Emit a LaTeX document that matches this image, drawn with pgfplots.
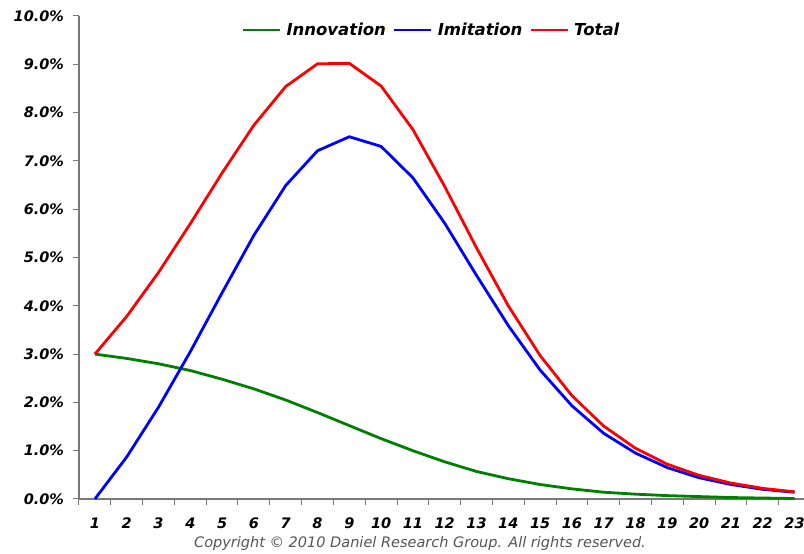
\documentclass[border=0pt]{standalone}
\usepackage{pgfplots}
\pgfplotsset{compat=1.18}
\usepackage{pgfplotstable}
\usepackage{fontspec}
\setmainfont{DejaVu Sans}
\definecolor{axgray}{RGB}{120,120,120}
\definecolor{cgreen}{RGB}{0,128,0}
\definecolor{cblue}{RGB}{0,0,255}
\definecolor{cred}{RGB}{255,0,0}
\definecolor{copyg}{RGB}{85,85,85}
\pgfplotstableread{
t innov imit total
1 3.00 0.00 3.00
2 2.91 0.87 3.78
3 2.80 1.90 4.69
4 2.66 3.05 5.70
5 2.48 4.27 6.75
6 2.28 5.46 7.74
7 2.05 6.49 8.54
8 1.79 7.21 9.01
9 1.52 7.50 9.02
10 1.25 7.30 8.55
11 1.00 6.65 7.65
12 0.77 5.71 6.47
13 0.57 4.63 5.20
14 0.42 3.59 4.00
15 0.30 2.67 2.97
16 0.21 1.93 2.14
17 0.14 1.36 1.51
18 0.10 0.95 1.05
19 0.07 0.65 0.72
20 0.05 0.44 0.49
21 0.03 0.30 0.33
22 0.02 0.20 0.22
23 0.01 0.14 0.15
}\datatable
\begin{document}
\begin{tikzpicture}
\begin{axis}[
  at={(0,0)}, anchor=south west,
  scale only axis, width=731.4pt, height=483pt,
  xmin=0.5, xmax=23.5, ymin=0, ymax=10,
  axis lines*=left,
  axis line style={axgray, line width=1.3pt, -},
  tick align=outside,
  major tick length=6pt, minor tick length=6pt,
  every tick/.style={axgray, line width=1pt},
  xtick={1,...,23},
  minor xtick={0.5,1.5,...,23.5},
  major x tick style={draw=none},
  ytick={0,1,...,10},
  yticklabel={\pgfmathprintnumber[fixed,fixed zerofill,precision=1,assume math mode=true]{\tick}\%},
  xticklabel={\pgfmathprintnumber[assume math mode=true]{\tick}},
  ticklabel style={font=\fontsize{14.5}{16}\selectfont\bfseries\itshape, text=black},
  yticklabel style={xshift=-5.5pt},
  xticklabel style={yshift=-9pt},
  legend style={at={(0.482,0.971)}, anchor=center, draw=none, fill=none,
    font=\fontsize{16.5}{18}\selectfont\bfseries\itshape,
    /tikz/every odd column/.append style={column sep=3pt},
    /tikz/every even column/.append style={column sep=5pt}},
  legend columns=3,
  legend image code/.code={\draw[#1, line width=2.8pt] (0pt,0pt) -- (37pt,0pt);},
  clip=false,
]
\addplot[cgreen, line width=2.8pt] table[x=t, y=innov] {\datatable};
\addlegendentry{Innovation}
\addplot[cblue, line width=2.8pt] table[x=t, y=imit] {\datatable};
\addlegendentry{Imitation}
\addplot[cred, line width=2.8pt] table[x=t, y=total] {\datatable};
\addlegendentry{Total}
\end{axis}
\node[font=\fontsize{14.5}{16}\selectfont\itshape, text=copyg] at (341pt,-45pt) {Copyright \textcopyright{} 2010 Daniel Research Group. All rights reserved.};
\pgfresetboundingbox
\useasboundingbox (-79pt,-55pt) rectangle (725pt,499pt);
\end{tikzpicture}
\end{document}
